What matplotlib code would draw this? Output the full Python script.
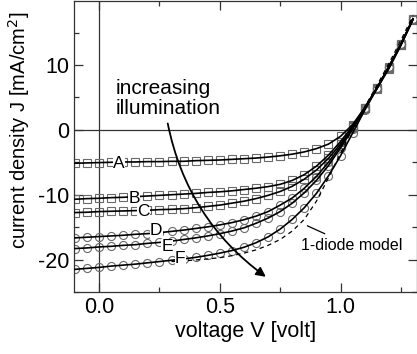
import matplotlib
matplotlib.use("Agg")
import matplotlib.pyplot as plt
from matplotlib.patches import FancyArrowPatch
from matplotlib.ticker import MultipleLocator

plt.rcParams['font.family'] = ['Liberation Sans', 'DejaVu Sans']
plt.rcParams['axes.unicode_minus'] = False

# voltage grid of the measured points (V)
volt = [-0.1, -0.05, 0.0, 0.05, 0.1, 0.15, 0.2, 0.25, 0.3, 0.35, 0.4, 0.45, 0.5,
        0.55, 0.6, 0.65, 0.7, 0.75, 0.8, 0.85, 0.9, 0.95, 1.0, 1.05, 1.1, 1.15,
        1.2, 1.25, 1.3]

# current density curves (mA/cm^2), low to high illumination
curve_a = [-5.15, -5.1, -5.05, -5.0, -4.95, -4.95, -4.9, -4.9, -4.85, -4.85, -4.75,
           -4.7, -4.65, -4.55, -4.45, -4.35, -4.2, -4.0, -3.75, -3.4, -2.9, -2.2,
           -1.0, 0.8, 3.4, 6.3, 9.4, 13.0, 17.0]
curve_b = [-10.7, -10.6, -10.55, -10.45, -10.4, -10.3, -10.2, -10.1, -10.0, -9.9,
           -9.8, -9.65, -9.55, -9.4, -9.2, -9.0, -8.75, -8.4, -7.8, -6.9, -5.6,
           -3.9, -1.8, 0.6, 3.4, 6.4, 9.6, 13.1, 17.0]
curve_c = [-12.75, -12.7, -12.6, -12.55, -12.5, -12.45, -12.4, -12.3, -12.25,
           -12.15, -12.0, -11.8, -11.6, -11.3, -11.0, -10.6, -10.1, -9.5, -8.7,
           -7.6, -6.2, -4.4, -2.2, 0.4, 3.3, 6.4, 9.7, 13.2, 17.1]
curve_d = [-16.65, -16.55, -16.45, -16.35, -16.25, -16.1, -16.0, -15.85, -15.65,
           -15.45, -15.2, -14.95, -14.65, -14.3, -13.85, -13.3, -12.6, -11.6,
           -10.5, -9.0, -7.2, -5.0, -2.5, 0.3, 3.3, 6.4, 9.7, 13.2, 17.1]
curve_e = [-18.3, -18.2, -18.05, -17.95, -17.8, -17.7, -17.5, -17.35, -17.15,
           -16.9, -16.65, -16.35, -16.0, -15.6, -15.1, -14.4, -13.6, -12.6, -11.3,
           -9.7, -7.8, -5.5, -2.8, 0.1, 3.2, 6.4, 9.7, 13.2, 17.1]
curve_f = [-21.5, -21.35, -21.2, -21.0, -20.85, -20.7, -20.5, -20.3, -20.1, -19.9,
           -19.65, -19.35, -19.0, -18.6, -18.1, -17.4, -16.5, -15.3, -13.8, -12.0,
           -9.8, -7.1, -4.0, -0.5, 3.0, 6.3, 9.7, 13.2, 17.1]
curve_labels = ['A', 'B', 'C', 'D', 'E', 'F']
curve_markers = ['s', 's', 's', 'o', 'o', 'o']
label_pos = [(0.083, -5.15), (0.145, -10.6), (0.183, -12.6),
             (0.237, -15.5), (0.282, -18.0), (0.336, -19.9)]

# 1-diode model (dashed)
model_volt = [0.3, 0.35, 0.4, 0.45, 0.5, 0.55, 0.6, 0.65, 0.7, 0.75, 0.8, 0.85,
              0.9, 0.95, 1.0, 1.05, 1.1, 1.15, 1.2, 1.25, 1.3]
model_j = [-20.3, -20.2, -20.05, -19.9, -19.7, -19.4, -19.0, -18.5, -17.8, -16.9,
           -15.6, -13.8, -11.0, -7.4, -3.6, 0.2, 3.5, 6.8, 10.2, 13.8, 17.6]

fig = plt.figure(figsize=(4.17, 3.54), dpi=100)
ax = fig.add_axes([0.1775, 0.175, 0.8215, 0.823])

ax.axhline(0, color='#333333', lw=0.9, zorder=1)
ax.axvline(0, color='#333333', lw=0.9, zorder=1)

curves = [curve_a, curve_b, curve_c, curve_d, curve_e, curve_f]
for j, lab, mk, (lx, ly) in zip(curves, curve_labels, curve_markers, label_pos):
    ax.plot(volt, j, color='black', lw=1.2, zorder=3)
    ax.plot(volt, j, ls='none', marker=mk, ms=5.4 if mk == 's' else 5.8,
            mfc='none', mec='#6a6a6a', mew=0.8, zorder=2)
    ax.text(lx, ly, lab, fontsize=12.5, ha='center', va='center', zorder=5,
            bbox=dict(facecolor='white', edgecolor='none', pad=0.2))

ax.plot(model_volt, model_j, color='black', lw=0.9, ls=(0, (3.5, 3)), zorder=2)
ax.text(0.838, -17.9, '1-diode model', fontsize=11.5, ha='left', va='center')
ax.plot([0.863, 0.934], [-14.8, -16.0], color='black', lw=0.9)

ax.text(0.068, 4.8, 'increasing\nillumination', fontsize=15, ha='left',
        va='center', linespacing=1.1)
arrow = FancyArrowPatch((0.282, 1.4), (0.70, -22.9), arrowstyle='-|>',
                        mutation_scale=14, color='black', lw=1.3,
                        connectionstyle='arc3,rad=0.2', zorder=4)
ax.add_patch(arrow)

ax.set_xlim(-0.104, 1.315)
ax.set_ylim(-25, 19.9)
ax.xaxis.set_major_locator(MultipleLocator(0.5))
ax.xaxis.set_minor_locator(MultipleLocator(0.25))
ax.yaxis.set_major_locator(MultipleLocator(10))
ax.yaxis.set_minor_locator(MultipleLocator(5))
ax.xaxis.set_major_formatter(plt.FuncFormatter(lambda v, p: f'{v:.1f}'))
ax.tick_params(which='both', direction='in', top=True, right=True,
               labelsize=15.5, color='#333333')
ax.tick_params(which='major', length=6.5, width=0.9)
ax.tick_params(which='minor', length=3.5, width=0.9)
for s in ax.spines.values():
    s.set_color('#333333')
    s.set_linewidth(0.9)

ax.set_xlabel('voltage V [volt]', fontsize=15.5, labelpad=2)
ax.set_ylabel('current density J [mA/cm$^2$]', fontsize=14.5)
ax.yaxis.set_label_coords(-0.122, 0.555)

fig.savefig('out.png', dpi=100)
